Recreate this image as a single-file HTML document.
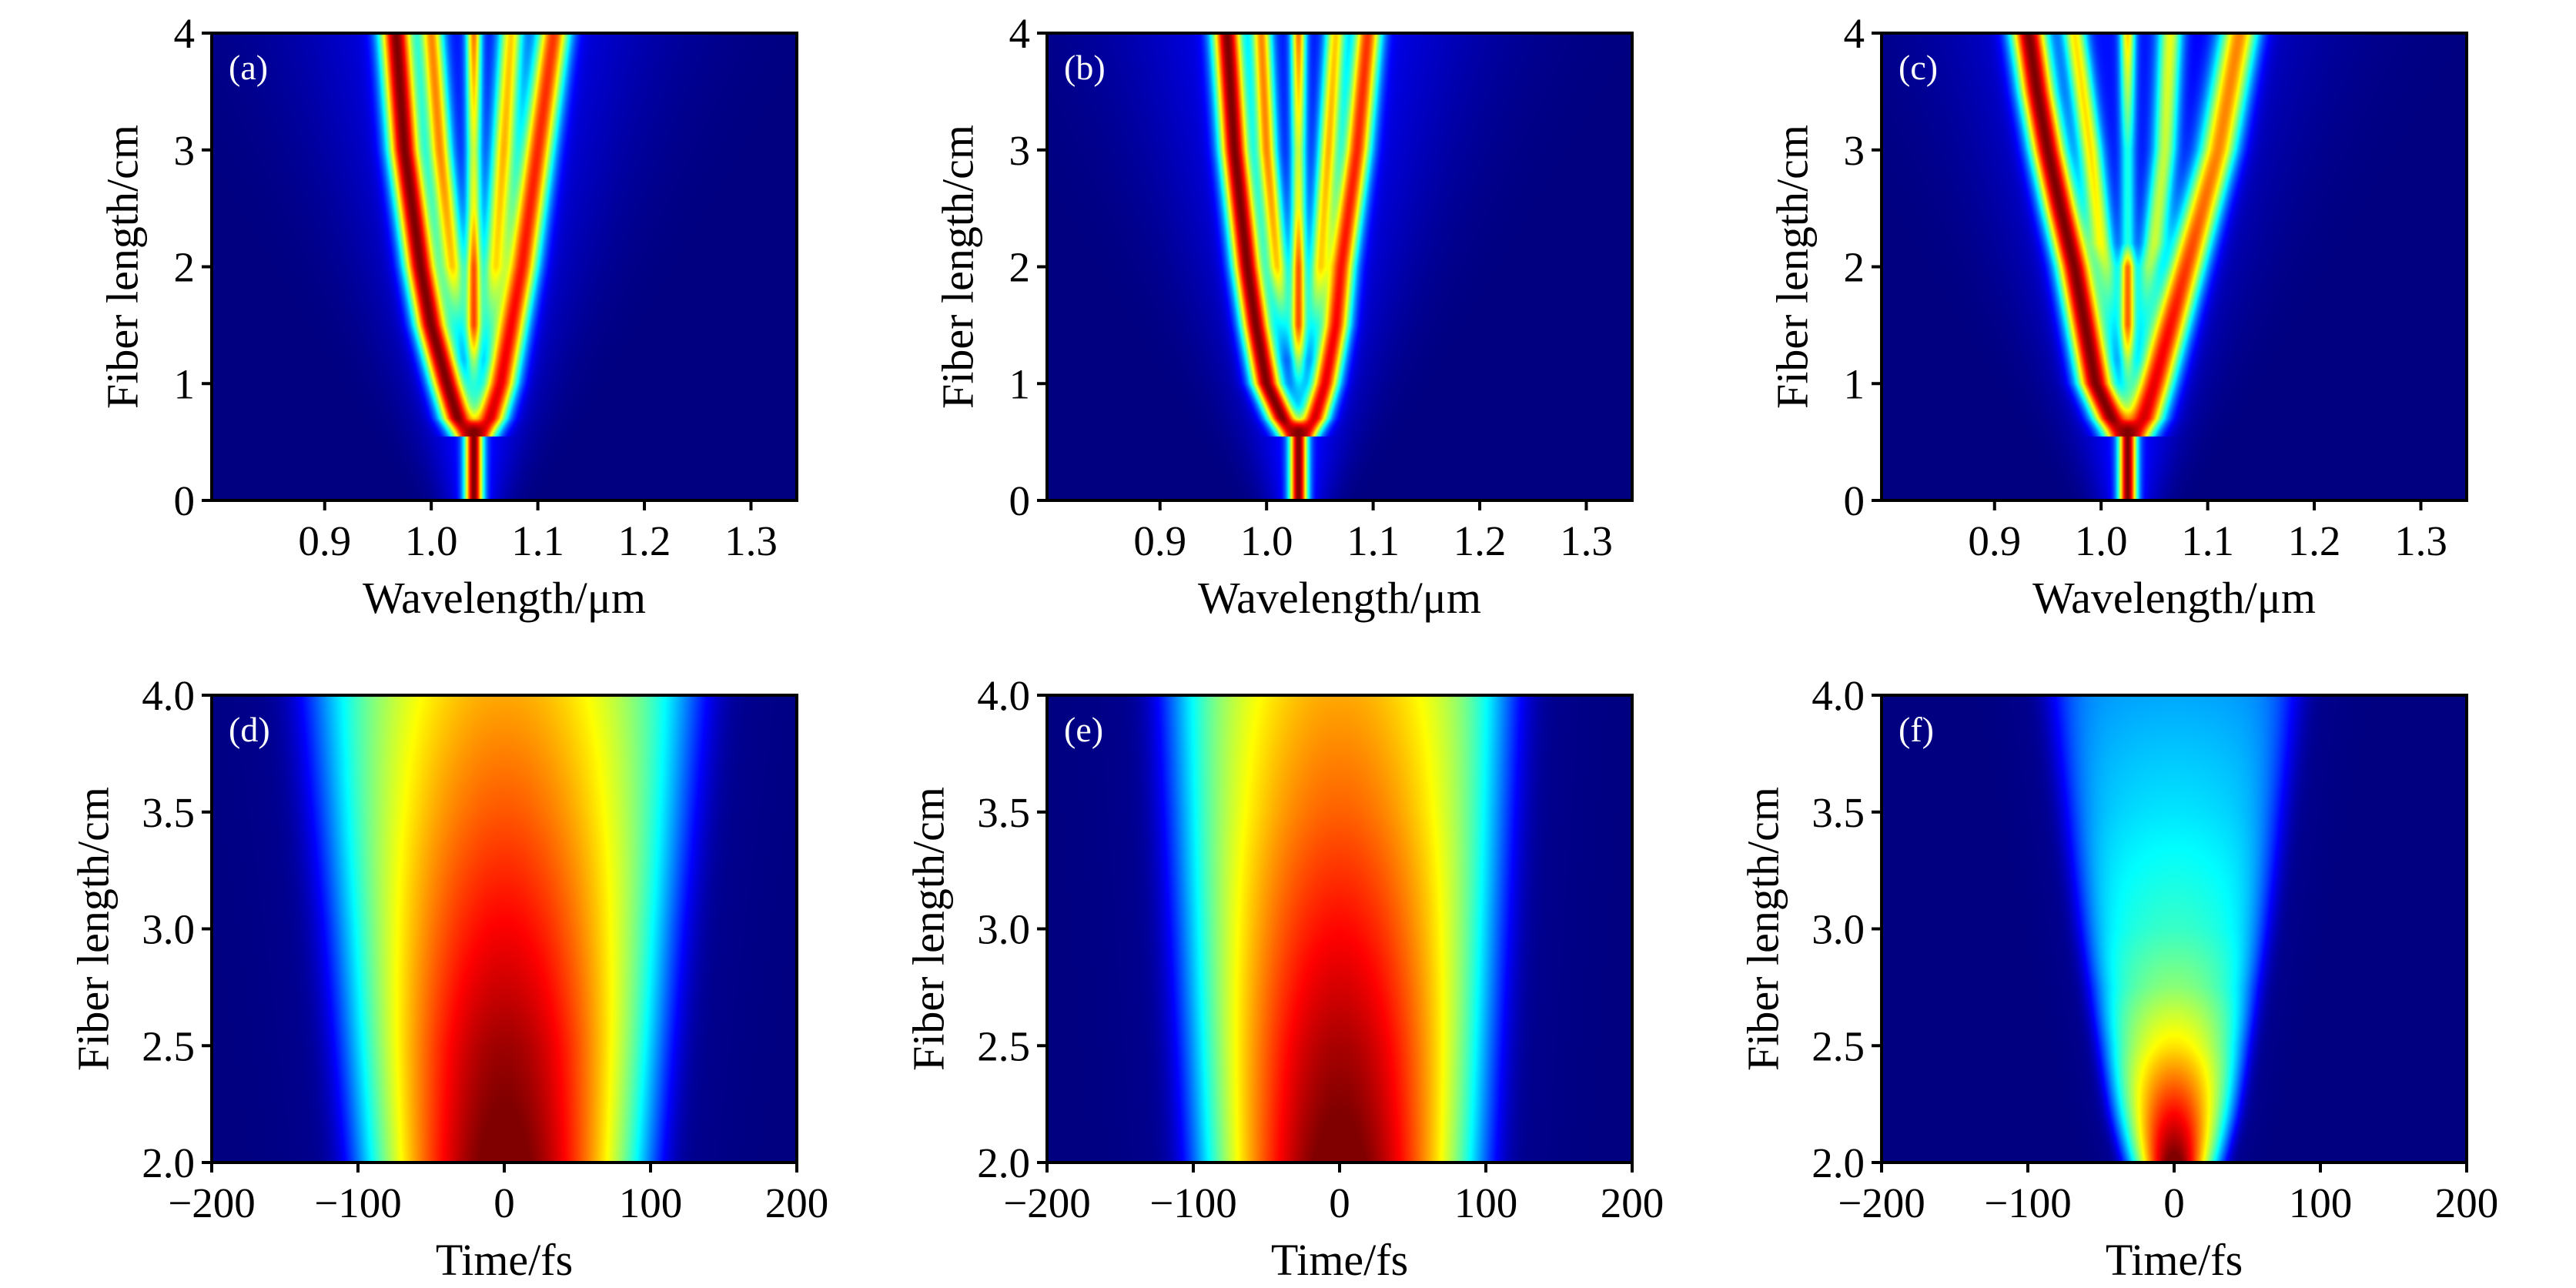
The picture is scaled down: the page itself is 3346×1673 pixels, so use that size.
<!DOCTYPE html>
<html><head><meta charset="utf-8">
<style>
html,body{margin:0;padding:0;background:#fff;}
#wrap{position:relative;width:3346px;height:1673px;overflow:hidden;background:#fff;}
canvas{position:absolute;}
svg{position:absolute;left:0;top:0;}
text{font-family:"Liberation Serif",serif;fill:#000;}
</style></head>
<body>
<div id="wrap">
<svg id="ov" width="3346" height="1673"></svg>
</div>
<script>
// ---- data ----
const specXTicks = [0.9, 1.0, 1.1, 1.2, 1.3];
const specXTickLabels = ["0.9", "1.0", "1.1", "1.2", "1.3"];
const specYTicks = [0, 1, 2, 3, 4];
const specYTickLabels = ["0", "1", "2", "3", "4"];
const timeXTicks = [-200, -100, 0, 100, 200];
const timeXTickLabels = ["\u2212200", "\u2212100", "0", "100", "200"];
const timeYTicks = [2.0, 2.5, 3.0, 3.5, 4.0];
const timeYTickLabels = ["2.0", "2.5", "3.0", "3.5", "4.0"];
const panelLetters = ["(a)", "(b)", "(c)", "(d)", "(e)", "(f)"];

// spectral branches: z knots, centre wavelength (um), amplitude, sigma
const specA = [
  {z:[0,0.6,0.7], c:[1.04,1.04,1.04], a:[1,1,0], s:0.006},
  {z:[0.55,0.7,1,1.5,2,3,4], c:[1.035,1.025,1.015,1.0,0.99,0.975,0.967], a:[0.8,1,1,1,1,1,1], s:0.011},
  {z:[0.55,0.7,1,1.5,2,3,4], c:[1.045,1.055,1.065,1.075,1.085,1.1,1.115], a:[0.8,0.9,0.88,0.86,0.84,0.82,0.8], s:0.011},
  {z:[1.2,2,3,4], c:[1.03,1.02,1.008,1.0], a:[0,0.62,0.7,0.7], s:0.008},
  {z:[1.2,2,3,4], c:[1.05,1.06,1.068,1.075], a:[0,0.58,0.65,0.62], s:0.008},
  {z:[0.8,1.5,2,2.5,3,4], c:[1.04,1.04,1.04,1.04,1.04,1.04], a:[0,0.75,0.75,0.55,0.5,0.72], s:0.005}
];
const specB = [
  {z:[0,0.6,0.7], c:[1.03,1.03,1.03], a:[1,1,0], s:0.006},
  {z:[0.55,0.7,1,1.5,2,3,4], c:[1.025,1.015,1.0,0.99,0.982,0.97,0.963], a:[0.8,1,1,1,1,1,1], s:0.01},
  {z:[0.55,0.7,1,1.5,2,3,4], c:[1.035,1.045,1.055,1.065,1.07,1.085,1.095], a:[0.8,0.9,0.88,0.86,0.84,0.82,0.8], s:0.0095},
  {z:[1.2,2,3,4], c:[1.02,1.01,1.0,0.995], a:[0,0.62,0.7,0.7], s:0.007},
  {z:[1.2,2,3,4], c:[1.04,1.05,1.058,1.065], a:[0,0.58,0.65,0.62], s:0.007},
  {z:[0.8,1.5,2,2.5,3,4], c:[1.03,1.03,1.03,1.03,1.03,1.03], a:[0,0.75,0.75,0.55,0.5,0.72], s:0.005}
];
const specC = [
  {z:[0,0.6,0.7], c:[1.025,1.025,1.025], a:[1,1,0], s:0.006},
  {z:[0.55,0.7,1,1.5,2,2.5,3,3.5,4], c:[1.02,1.01,0.995,0.985,0.975,0.962,0.95,0.94,0.932], a:[0.8,1,1,1,1,1,1,1,1], s:0.012},
  {z:[0.55,0.7,1,1.5,2,2.5,3,3.5,4], c:[1.03,1.04,1.05,1.065,1.08,1.095,1.11,1.12,1.13], a:[0.8,0.9,0.88,0.85,0.8,0.75,0.72,0.72,0.72], s:0.013},
  {z:[1.2,2,2.2,3,4], c:[1.015,1.005,1.0,0.99,0.975], a:[0,0.45,0.55,0.6,0.6], s:0.008},
  {z:[1.2,2,2.2,3,4], c:[1.035,1.045,1.05,1.06,1.065], a:[0,0.45,0.5,0.5,0.55], s:0.008},
  {z:[0.8,1.5,2,2.2,3,4], c:[1.025,1.025,1.025,1.025,1.025,1.025], a:[0,0.72,0.72,0.3,0.3,0.62], s:0.005}
];
// temporal panels: z knots, peak amplitude, gaussian width (fs), edge cutoff (fs)
const timeZ = [2.0, 2.5, 3.0, 3.5, 4.0];
const ampD = [1.0, 0.94, 0.85, 0.76, 0.68];
const widD = [101, 112, 125, 140, 155];
const edgeD = [108, 115, 122, 130, 138];
const ampE = [1.0, 0.93, 0.84, 0.75, 0.68];
const widE = [100, 110, 122, 136, 150];
const edgeE = [106, 110, 114, 118, 122];
const timeZF = [2.0, 2.2, 2.5, 2.75, 3.0, 3.5, 4.0];
const ampF = [1.0, 0.85, 0.62, 0.48, 0.4, 0.32, 0.26];
const widF = [28, 40, 60, 80, 110, 160, 220];
const edgeF = [38, 45, 52, 58, 64, 74, 84];

// ---- layout ----
const lefts = [275, 1360, 2444], tops = [43, 903], W = 760, H = 607;
const specMin = 0.794, specMax = 1.343;
const NS = 'http://www.w3.org/2000/svg';
const ov = document.getElementById('ov');
const wrap = document.getElementById('wrap');

function interp(xs, ys, x) {
  if (x <= xs[0]) return ys[0];
  if (x >= xs[xs.length-1]) return ys[ys.length-1];
  for (let i=1;i<xs.length;i++) if (x <= xs[i]) {
    const t=(x-xs[i-1])/(xs[i]-xs[i-1]); return ys[i-1]+t*(ys[i]-ys[i-1]);
  }
}
function jet(v) {
  v = Math.max(0, Math.min(1, v));
  const r = Math.max(0, Math.min(1, 1.5 - Math.abs(4*v - 3)));
  const g = Math.max(0, Math.min(1, 1.5 - Math.abs(4*v - 2)));
  const b = Math.max(0, Math.min(1, 1.5 - Math.abs(4*v - 1)));
  return [r*255, g*255, b*255];
}
function makeCanvas(x, y, name) {
  const c = document.createElement('canvas');
  c.width = W; c.height = H;
  c.style.left = x + 'px'; c.style.top = y + 'px';
  
  
  wrap.insertBefore(c, ov);
  return c;
}
function drawSpec(canvas, branches) {
  const ctx = canvas.getContext('2d');
  const img = ctx.createImageData(W, H);
  const xVal = new Float32Array(W);
  for (let i=0;i<W;i++) xVal[i] = specMin + (i+0.5)/W*(specMax-specMin);
  for (let j=0;j<H;j++) {
    const z = 4 - (j+0.5)/H*4;
    const bs = branches.map(b => ({c:interp(b.z,b.c,z), a:(z<b.z[0]?0:interp(b.z,b.a,z)), s:b.s}));
    const c0 = branches[0].c[0];
    const gs = 0.02 + 0.022*z, ga = 0.14;
    for (let i=0;i<W;i++) {
      const x = xVal[i];
      let prod = 1 - ga*Math.exp(-Math.pow((x-c0)/gs,2)/2);
      for (const b of bs) { if (b.a>0) { const d=(x-b.c)/b.s; prod *= 1 - b.a*Math.exp(-d*d/2); } }
      const col = jet(1 - prod);
      const k = 4*(j*W+i);
      img.data[k]=col[0]; img.data[k+1]=col[1]; img.data[k+2]=col[2]; img.data[k+3]=255;
    }
  }
  ctx.putImageData(img, 0, 0);
}
function drawTime(canvas, zs, amps, wids, edges) {
  const ctx = canvas.getContext('2d');
  const img = ctx.createImageData(W, H);
  for (let j=0;j<H;j++) {
    const z = 4 - (j+0.5)/H*2;
    const A = interp(zs, amps, z), w = interp(zs, wids, z), e = interp(zs, edges, z);
    for (let i=0;i<W;i++) {
      const t = -200 + (i+0.5)/W*400;
      let v = A*Math.exp(-Math.pow(t/w, 2))*Math.exp(-Math.pow(Math.abs(t)/e, 8));
      v += 0.03*Math.exp(-Math.pow(Math.abs(t)/(e*1.25), 4));
      const col = jet(Math.min(1, v));
      const k = 4*(j*W+i);
      img.data[k]=col[0]; img.data[k+1]=col[1]; img.data[k+2]=col[2]; img.data[k+3]=255;
    }
  }
  ctx.putImageData(img, 0, 0);
}
function el(tag, attrs, name, txt) {
  const e = document.createElementNS(NS, tag);
  for (const k in attrs) e.setAttribute(k, attrs[k]);
  
  
  if (txt !== undefined) e.textContent = txt;
  ov.appendChild(e);
  return e;
}
function axes(L, T, xmin, xmax, ymin, ymax, xt, xl, yt, yl, xTitle, letter, yTitleOff) {
  const sx = v => L + (v-xmin)/(xmax-xmin)*W;
  const sy = v => T + H - (v-ymin)/(ymax-ymin)*H;
  el('rect', {x:L, y:T, width:W, height:H, fill:'none', stroke:'#000', 'stroke-width':4}, 'plot-frame');
  xt.forEach((v,i) => {
    el('line', {x1:sx(v), x2:sx(v), y1:T+H, y2:T+H+13, stroke:'#000', 'stroke-width':4}, 'x-tick');
    el('text', {x:sx(v), y:T+H+71, 'font-size':55, 'text-anchor':'middle'}, 'x-tick-label', xl[i]);
  });
  yt.forEach((v,i) => {
    el('line', {x1:L-13, x2:L, y1:sy(v), y2:sy(v), stroke:'#000', 'stroke-width':4}, 'y-tick');
    el('text', {x:L-22, y:sy(v)+19, 'font-size':55, 'text-anchor':'end'}, 'y-tick-label', yl[i]);
  });
  el('text', {x:L+W/2, y:T+H+146, 'font-size':58, 'text-anchor':'middle'}, 'x-axis-title', xTitle);
  const cx = L - yTitleOff, cy = T + H/2;
  el('text', {x:cx, y:cy, 'font-size':58, 'text-anchor':'middle', transform:`rotate(-90 ${cx} ${cy})`, 'dominant-baseline':'middle'}, 'y-axis-title', 'Fiber length/cm');
  const lt = el('text', {x:L+22, y:T+60, 'font-size':46}, 'panel-label', letter);
  lt.style.fill = '#fff';
}
const specs = [specA, specB, specC];
for (let p=0;p<3;p++) {
  const c = makeCanvas(lefts[p], tops[0], 'spectral-heatmap');
  drawSpec(c, specs[p]);
  axes(lefts[p], tops[0], specMin, specMax, 0, 4, specXTicks, specXTickLabels, specYTicks, specYTickLabels, 'Wavelength/\u03bcm', panelLetters[p], 110);
}
const tSets = [[timeZ, ampD, widD, edgeD], [timeZ, ampE, widE, edgeE], [timeZF, ampF, widF, edgeF]];
for (let p=0;p<3;p++) {
  const c = makeCanvas(lefts[p], tops[1], 'temporal-heatmap');
  drawTime(c, tSets[p][0], tSets[p][1], tSets[p][2], tSets[p][3]);
  axes(lefts[p], tops[1], -200, 200, 2, 4, timeXTicks, timeXTickLabels, timeYTicks, timeYTickLabels, 'Time/fs', panelLetters[p+3], 148);
}
</script>
</body></html>
